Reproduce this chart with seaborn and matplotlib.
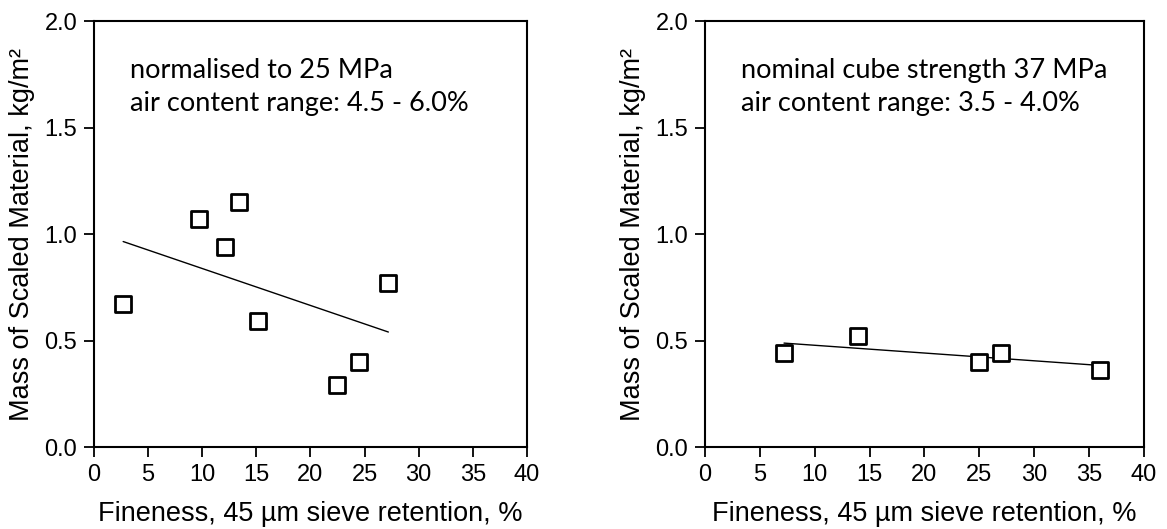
import matplotlib
matplotlib.use("Agg")
import matplotlib.pyplot as plt
import seaborn as sns
import pandas as pd

# Left panel data
left_x = [2.7, 9.7, 13.4, 12.1, 15.2, 27.2, 24.5, 22.5]
left_y = [0.67, 1.07, 1.15, 0.94, 0.59, 0.77, 0.40, 0.29]
left_trend_x = [2.7, 27.2]
left_trend_y = [0.965, 0.54]

# Right panel data
right_x = [7.2, 13.9, 25.0, 27.0, 36.0]
right_y = [0.44, 0.52, 0.40, 0.44, 0.36]
right_trend_x = [7.2, 36.0]
right_trend_y = [0.488, 0.383]

left_note = ["normalised to 25 MPa", "air content range: 4.5 - 6.0%"]
right_note = ["nominal cube strength 37 MPa", "air content range: 3.5 - 4.0%"]

x_label = "Fineness, 45 µm sieve retention, %"
y_label = "Mass of Scaled Material, kg/m²"
x_ticks = [0, 5, 10, 15, 20, 25, 30, 35, 40]
y_ticks = [0.0, 0.5, 1.0, 1.5, 2.0]

sns.set_theme(style="ticks")
plt.rcParams['font.family'] = ['Liberation Sans', 'DejaVu Sans']

fig = plt.figure(figsize=(11.67, 5.29), dpi=100)
ax1 = fig.add_axes([0.0805, 0.155, 0.371, 0.805])
ax2 = fig.add_axes([0.6041, 0.155, 0.3762, 0.805])

panels = [
    (ax1, left_x, left_y, left_trend_x, left_trend_y, left_note),
    (ax2, right_x, right_y, right_trend_x, right_trend_y, right_note),
]

for ax, xs, ys, tx, ty, note in panels:
    df = pd.DataFrame({"x": xs, "y": ys})
    tdf = pd.DataFrame({"x": tx, "y": ty})
    sns.lineplot(data=tdf, x="x", y="y", ax=ax, color="black", linewidth=1.0, zorder=2)
    sns.scatterplot(data=df, x="x", y="y", ax=ax, marker="s", s=135,
                    facecolor="white", edgecolor="black", linewidth=2.0, zorder=3)
    ax.set_xlim(0, 40)
    ax.set_ylim(0, 2.0)
    ax.set_xticks(x_ticks)
    ax.set_yticks(y_ticks)
    ax.set_yticklabels([f"{v:.1f}" for v in y_ticks])
    ax.set_xlabel(x_label, fontsize=19.5, labelpad=11, color="black")
    ax.set_ylabel(y_label, fontsize=19.5, labelpad=7, color="black")
    ax.tick_params(axis="both", direction="out", length=7, width=1.3,
                   labelsize=17, color="black", labelcolor="black", pad=5)
    for sp in ax.spines.values():
        sp.set_visible(True)
        sp.set_color("black")
        sp.set_linewidth(1.5)
    ax.text(0.083, 0.845, note[0] + "\n" + note[1], transform=ax.transAxes,
            fontsize=19.5, family=["Lato", "DejaVu Sans"], va="center", ha="left",
            linespacing=1.4, color="black")

fig.savefig("out.png", dpi=100, facecolor="white")
